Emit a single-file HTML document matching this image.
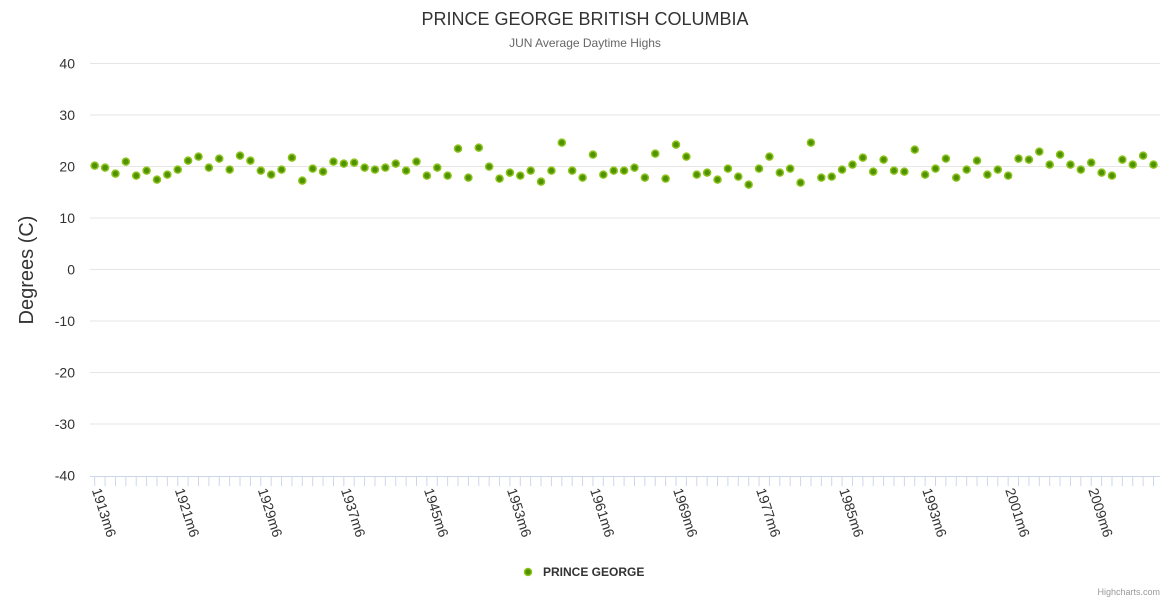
<!DOCTYPE html>
<html><head><meta charset="utf-8"><style>
html,body{margin:0;padding:0;background:#fff;}
svg{display:block;font-family:"Liberation Sans",sans-serif;}
</style></head><body>
<svg id="c" width="1170" height="600" xmlns="http://www.w3.org/2000/svg">
<text x="585" y="25" text-anchor="middle" font-size="18" fill="#333">PRINCE GEORGE BRITISH COLUMBIA</text>
<text x="585" y="47" text-anchor="middle" font-size="12" fill="#666">JUN Average Daytime Highs</text>
<g id="grid" stroke="#e6e6e6" stroke-width="1"></g>
<g id="ylab" font-size="14" fill="#333" text-anchor="end"></g>
<text transform="translate(33,270) rotate(-90)" text-anchor="middle" font-size="20" fill="#333">Degrees (C)</text>
<line x1="90" y1="476.5" x2="1160" y2="476.5" stroke="#ccd6eb"/>
<g id="ticks" stroke="#ccd6eb" stroke-width="1"></g>
<g id="xlab" font-size="14" fill="#333"></g>
<g id="pts"></g>
<circle cx="528" cy="572" r="3.5" fill="#4f9300" stroke="#8cc21a" stroke-width="1.5"/>
<text x="543" y="576" font-size="12" font-weight="bold" fill="#333">PRINCE GEORGE</text>
<text x="1160" y="595" text-anchor="end" font-size="9" fill="#999">Highcharts.com</text>
</svg>
<script>
var NS="http://www.w3.org/2000/svg";
function el(p,t,a,txt){var e=document.createElementNS(NS,t);for(var k in a)e.setAttribute(k,a[k]);if(txt!=null)e.textContent=txt;document.getElementById(p).appendChild(e);}
for(var i=0;i<8;i++){var y=63.5+i*51.5;el("grid","line",{x1:90,x2:1160,y1:y,y2:y});}
for(var i=0;i<9;i++){el("ylab","text",{x:75,y:63.5+i*51.5+5},String(40-i*10));}
var zy=[107,113,131,95,137,122,149,134,119,92,80,113,86,119,77,92,122,134,119,83,152,116,125,95,101,98,113,119,113,101,122,95,137,113,
137,56,143,53,110,146,128,137,122,155,122,38,122,143,74,134,122,122,113,143,71,146,44,80,134,128,149,116,140,164,116,80,128,116,
158,38,143,140,119,104,83,125,89,122,125,59,134,116,86,143,119,92,134,119,137,86,89,65,104,74,104,119,98,128,137,89,104,77,104];
var x0=94.7,dx=(1153.5-94.7)/102;
for(var i=0;i<zy.length;i++){var x=x0+i*dx;
el("ticks","line",{x1:x,x2:x,y1:476,y2:486});
el("pts","circle",{cx:x,cy:130+zy[i]/3,r:3.5,fill:"#4f9300",stroke:"#8cc21a","stroke-width":1.5});
if(i%8==0){el("xlab","text",{transform:"translate("+(x-3)+",490) rotate(72)"},(1913+i)+"m6");}
}
</script>
</body></html>
